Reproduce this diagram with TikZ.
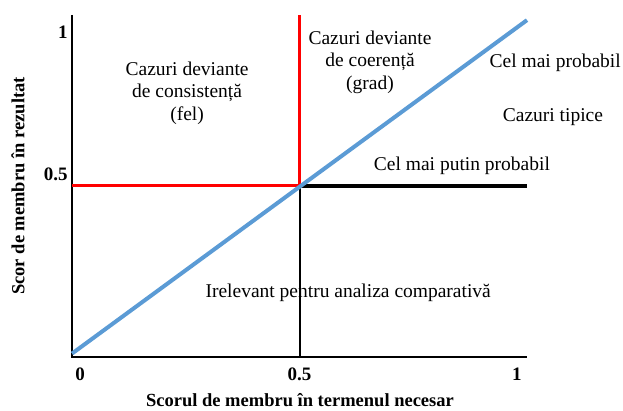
\documentclass[tikz,border=0pt]{standalone}
\usepackage{xcolor}
\usepackage{tikz}
\usepackage{fontspec}
\setmainfont{Liberation Serif}
\usetikzlibrary{
  arrows.meta,
  positioning,
  calc
}
\definecolor{qcDiag}{HTML}{5B9BD5}
\definecolor{qcDev}{HTML}{FF0000}
\definecolor{qcAxis}{HTML}{000000}
\tikzset{
  axisline/.style={line width=1.3pt, qcAxis},
  devline/.style={line width=3pt, qcDev},
  typline/.style={line width=3.5pt, black},
  lowline/.style={line width=2pt, black},
  diagline/.style={line width=4pt, qcDiag},
  region/.style={font=\fontsize{19.5}{22.5}\selectfont, align=center, inner sep=0pt},
  ticklbl/.style={font=\fontsize{19}{22}\selectfont\bfseries, inner sep=0pt},
  axistitle/.style={font=\fontsize{18.5}{22}\selectfont\bfseries, inner sep=0pt}
}
\begin{document}
\begin{tikzpicture}[x=1pt, y=1pt]
  \useasboundingbox (0,0) rectangle (623,410);
  \begin{scope}[shift={(72,53)}, x=455pt, y=342pt]
    % corners of the plot
    \coordinate (O) at (0,0);
    \coordinate (X) at (1,0);
    \coordinate (Y) at (0,1);
    \coordinate (M) at (0.5,0.5);
    \coordinate (Mtop) at (0.5,1);
    \coordinate (Mbot) at (0.5,0);
    \coordinate (Mleft) at (0,0.5);
    \coordinate (Mright) at (1,0.5);
    \coordinate (Dlo) at (0,0.01);
    \coordinate (Dhi) at (1,0.985);
    % axes
    \draw[axisline] (Y) -- (O) -- (X);
    % quadrant lines
    \draw[devline] (Mleft) -- (M) -- (Mtop);
    \draw[lowline] (M) -- (Mbot);
    \draw[typline] (M) -- (Mright);
    % diagonal
    \draw[diagline] (Dlo) -- (Dhi);
    % tick labels
    \node[ticklbl, anchor=east] (ty1) at (-0.009,0.95) {1};
    \node[ticklbl, anchor=east] (ty5) at (-0.009,0.535) {0.5};
    \node[ticklbl] (tx0) at (0.018,-0.05) {0};
    \node[ticklbl] (tx5) at (0.5,-0.05) {0.5};
    \node[ticklbl] (tx1) at (0.978,-0.05) {1};
    % axis titles
    \node[axistitle] (xtitle) at (0.501,-0.127) {Scorul de membru în termenul necesar};
    \node[axistitle, rotate=90] (ytitle) at (-0.119,0.5) {Scor de membru în rezultat};
    % region labels
    \node[region] (consist) at (0.253,0.772) {Cazuri deviante\\de consistență\\(fel)};
    \node[region] (coer) at (0.655,0.862) {Cazuri deviante\\de coerență\\(grad)};
    \node[region] (prob) at (1.062,0.86) {Cel mai probabil};
    \node[region] (tipice) at (1.057,0.702) {Cazuri tipice};
    \node[region] (putin) at (0.857,0.558) {Cel mai putin probabil};
    \node[region] (irel) at (0.607,0.187) {Irelevant pentru analiza comparativă};
  \end{scope}
\end{tikzpicture}
\end{document}
